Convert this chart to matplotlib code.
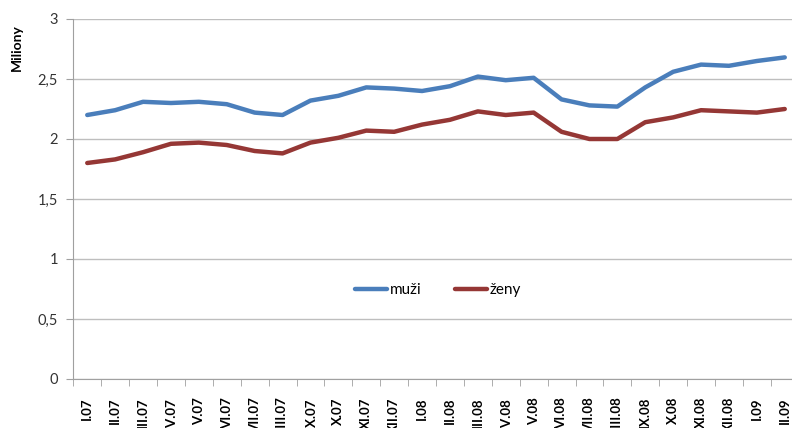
import numpy as np
import matplotlib
matplotlib.use('Agg')
import matplotlib.pyplot as plt
from matplotlib.ticker import FuncFormatter

# months
labels = ['I.07', 'II.07', 'III.07', 'IV.07', 'V.07', 'VI.07', 'VII.07', 'VIII.07',
          'IX.07', 'X.07', 'XI.07', 'XII.07', 'I.08', 'II.08', 'III.08', 'IV.08',
          'V.08', 'VI.08', 'VII.08', 'VIII.08', 'IX.08', 'X.08', 'XI.08', 'XII.08',
          'I.09', 'II.09']
muzi = [2.20, 2.24, 2.31, 2.30, 2.31, 2.29, 2.22, 2.20, 2.32, 2.36, 2.43, 2.42, 2.40,
        2.44, 2.52, 2.49, 2.51, 2.33, 2.28, 2.27, 2.43, 2.56, 2.62, 2.61, 2.65, 2.68]
zeny = [1.80, 1.83, 1.89, 1.96, 1.97, 1.95, 1.90, 1.88, 1.97, 2.01, 2.07, 2.06, 2.12,
        2.16, 2.23, 2.20, 2.22, 2.06, 2.00, 2.00, 2.14, 2.18, 2.24, 2.23, 2.22, 2.25]

plt.rcParams['font.family'] = ['Lato', 'DejaVu Sans']

fig = plt.figure(figsize=(7.92, 4.28), dpi=100)
ax = fig.add_axes([73.3/792, 1-379/428, 26*27.9/792, 360/428])

x = np.arange(len(labels))
ax.plot(x, muzi, color='#4A7EBB', lw=3.2, label='muži', solid_capstyle='round')
ax.plot(x, zeny, color='#953735', lw=3.2, label='ženy', solid_capstyle='round')

ax.set_xlim(-0.5, len(labels) - 0.5)
ax.set_ylim(0, 3)
ax.set_yticks(np.arange(0, 3.01, 0.5))
ax.yaxis.set_major_formatter(FuncFormatter(lambda v, p: ('%g' % v).replace('.', ',')))
ax.grid(axis='y', color='#BEBEBE', lw=1)
ax.set_axisbelow(True)

# labels run off the bottom edge like in the original export
ax.set_xticks(x)
ax.set_xticklabels(labels, rotation=90, fontsize=9.5, fontweight='bold', va='top', ha='center')
ax.set_xticks(np.arange(-0.5, len(labels), 1), minor=True)
ax.tick_params(axis='x', which='major', length=0, pad=13)
ax.tick_params(axis='x', which='minor', length=5, color='#A0A0A0')
ax.tick_params(axis='y', length=5, color='#A0A0A0', labelsize=10.5, labelcolor='#333333', pad=6)

for s in ['top', 'right']:
    ax.spines[s].set_visible(False)
for s in ['left', 'bottom']:
    ax.spines[s].set_color('#A0A0A0')

fig.text(17/792, 1-48/428, 'Miliony', rotation=90, fontsize=10, fontweight='bold',
         ha='center', va='center')

ax.legend(loc='center', bbox_to_anchor=(438/792, 1-290/428), bbox_transform=fig.transFigure,
          ncol=2, frameon=False, fontsize=11, handlelength=2.1, handletextpad=0.2,
          columnspacing=2.2)

fig.savefig('out.png', dpi=100)
